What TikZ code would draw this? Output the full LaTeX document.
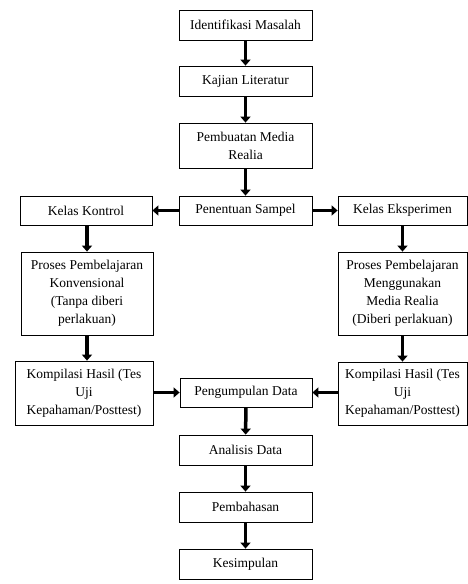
\documentclass[tikz,border=0pt]{standalone}
\usepackage{fontspec}
\setmainfont{Liberation Serif}
\usepackage{tikz}
\usetikzlibrary{arrows.meta}
\usetikzlibrary{positioning}

\begin{document}
\begin{tikzpicture}[x=1pt,y=-1pt,
  box/.style={draw,line width=.8pt,align=center,inner sep=0pt,
    font=\fontsize{13.5}{18}\selectfont},
  arr/.style={line width=3.5pt,-{Triangle[width=10pt,length=6pt]}}]
\useasboundingbox (0,0) rectangle (468,584);
\node[box,minimum width=133pt,minimum height=30pt] (idm) at (245.5,25) {Identifikasi Masalah};
\node[box,minimum width=133pt,minimum height=30pt] (kaj) at (245.5,81) {Kajian Literatur};
\node[box,minimum width=133pt,minimum height=45pt] (pmr) at (245.5,145.5) {Pembuatan Media\\Realia};
\node[box,minimum width=133pt,minimum height=29pt] (pen) at (245.5,210.5) {Penentuan Sampel};
\node[box,minimum width=132pt,minimum height=29pt] (kk) at (86,210.5) {Kelas Kontrol};
\node[box,minimum width=129pt,minimum height=29pt] (ke) at (402.5,210.5) {Kelas Eksperimen};
\node[box,minimum width=132pt,minimum height=83pt] (ppk) at (87,293.5) {Proses Pembelajaran\\Konvensional\\(Tanpa diberi\\perlakuan)};
\node[box,minimum width=129pt,minimum height=83pt] (ppe) at (402.5,293.5) {Proses Pembelajaran\\Menggunakan\\Media Realia\\(Diberi perlakuan)};
\node[box,minimum width=138pt,minimum height=64pt] (kol) at (84,393) {Kompilasi Hasil (Tes\\Uji\\Kepahaman/Posttest)};
\node[box,minimum width=129pt,minimum height=63pt] (koe) at (402.5,393.5) {Kompilasi Hasil (Tes\\Uji\\Kepahaman/Posttest)};
\node[box,minimum width=132pt,minimum height=29pt] (pd) at (246,392.5) {Pengumpulan Data};
\node[box,minimum width=133pt,minimum height=30pt] (ad) at (245.5,450) {Analisis Data};
\node[box,minimum width=133pt,minimum height=30pt] (pb) at (245.5,507) {Pembahasan};
\node[box,minimum width=133pt,minimum height=30pt] (ks) at (245.5,564) {Kesimpulan};
% alur tengah
\draw[arr] (idm) -- (kaj);
\draw[arr] (kaj) -- (pmr);
\draw[arr] (pmr) -- (pen);
\draw[arr] (pen) -- (kk);
\draw[arr] (pen) -- (ke);
% kelas kontrol dan eksperimen
\draw[arr] (ppk.north |- kk.south) -- (ppk.north);
\draw[arr] (ppk.south) -- (ppk.south |- kol.north);
\draw[arr] (ppe.north |- ke.south) -- (ppe.north);
\draw[arr] (ppe.south) -- (ppe.south |- koe.north);
\draw[arr] (kol.east |- pd) -- (pd.west);
\draw[arr] (koe.west |- pd) -- (pd.east);
\draw[arr] (pd) -- (ad);
\draw[arr] (ad) -- (pb);
\draw[arr] (pb) -- (ks);
\end{tikzpicture}
\end{document}
